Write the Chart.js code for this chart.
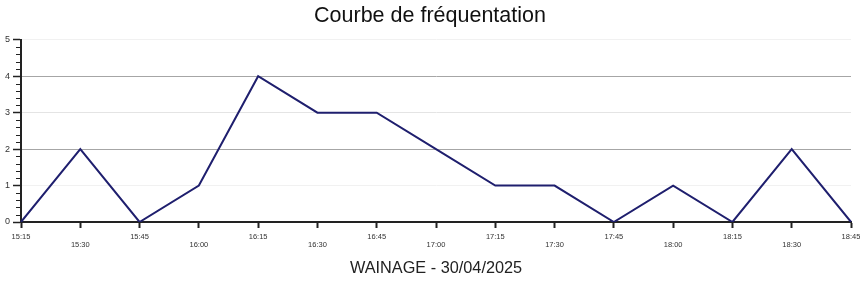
<!DOCTYPE html>
<html lang="fr">
<head>
<meta charset="utf-8">
<title>Courbe de fréquentation</title>
<script src="https://cdn.jsdelivr.net/npm/chart.js@4/dist/chart.umd.min.js"></script>
<style>
  html, body { margin: 0; padding: 0; background: #fff; }
  #wrap { position: relative; width: 860px; height: 284px; }
</style>
</head>
<body>
<div id="wrap"><canvas id="chart"></canvas></div>
<script>
const timeLabels = ['15:15', '15:30', '15:45', '16:00', '16:15', '16:30', '16:45', '17:00',
  '17:15', '17:30', '17:45', '18:00', '18:15', '18:30', '18:45'];
const visitors = [0, 2, 0, 1, 4, 3, 3, 2, 1, 1, 0, 1, 0, 2, 0];
const yMin = 0;
const yMax = 5;
const minorStep = 0.2;

const font = '"Liberation Sans", Arial, sans-serif';

// odd labels go on a second row, like the original
const xLabels = timeLabels.map((label, i) => (i % 2 ? ['', label] : label));

const gridColor = (value) => {
  if (value === 2 || value === 4) return '#a6a6a6';
  if (value === 3) return '#e4e4e4';
  if (value === 5 || value === 1) return '#f1f1f1';
  return 'rgba(0,0,0,0)';
};

const minorTicks = {
  id: 'minorTicks',
  afterDraw(chart) {
    const y = chart.scales.y;
    const ctx = chart.ctx;
    const right = chart.chartArea.left;
    ctx.save();
    ctx.strokeStyle = '#222';
    ctx.lineWidth = 1;
    ctx.beginPath();
    for (let v = yMin; v <= yMax + 1e-9; v += minorStep) {
      if (Math.abs(v - Math.round(v)) < 1e-6) continue;
      const py = Math.round(y.getPixelForValue(v)) + 0.5;
      ctx.moveTo(right - 5, py);
      ctx.lineTo(right, py);
    }
    ctx.stroke();
    ctx.restore();
  }
};

new Chart(document.getElementById('chart'), {
  type: 'line',
  data: {
    labels: xLabels,
    datasets: [{
      data: visitors,
      borderColor: '#1f1f6e',
      borderWidth: 2,
      pointRadius: 0,
      tension: 0,
      fill: false
    }]
  },
  options: {
    responsive: true,
    maintainAspectRatio: false,
    animation: false,
    layout: { padding: 0 },
    plugins: {
      legend: { display: false },
      tooltip: { enabled: false },
      title: {
        display: true,
        text: 'Courbe de fréquentation',
        color: '#111',
        font: { family: font, size: 21.5, weight: 'normal', lineHeight: 1.2 },
        padding: { top: 3, bottom: 11 }
      }
    },
    scales: {
      x: {
        offset: false,
        afterFit: (scale) => {
          scale.height = 62;
          scale.paddingLeft = 0;
          scale.paddingRight = 9;
        },
        border: { display: true, color: '#222', width: 2 },
        grid: { drawOnChartArea: false, drawTicks: true, tickLength: 6, tickWidth: 2, tickColor: '#222' },
        ticks: {
          autoSkip: false,
          maxRotation: 0,
          padding: 5,
          color: '#333',
          font: { family: font, size: 7.5, lineHeight: 1.1 }
        },
        title: {
          display: true,
          text: 'WAINAGE - 30/04/2025',
          color: '#222',
          font: { family: font, size: 16.3, lineHeight: 1.2 },
          padding: { top: 0, bottom: 6 }
        }
      },
      y: {
        min: yMin,
        max: yMax,
        afterFit: (scale) => { scale.width = 21; },
        border: { display: true, color: '#222', width: 2 },
        grid: {
          color: (ctx) => gridColor(ctx.tick.value),
          lineWidth: 1,
          tickLength: 8,
          tickColor: '#222',
          tickWidth: 1.5
        },
        ticks: {
          stepSize: 1,
          padding: 3,
          color: '#333',
          font: { family: font, size: 9 }
        }
      }
    }
  },
  plugins: [minorTicks]
});
</script>
</body>
</html>
